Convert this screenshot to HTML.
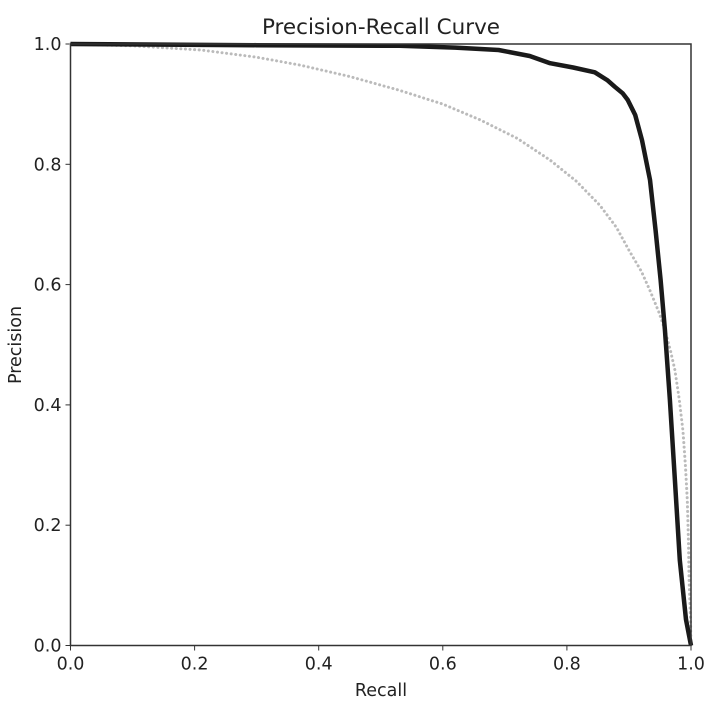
<!DOCTYPE html>
<html><head><meta charset="utf-8"><style>body{margin:0;background:#fff}svg{display:block;font-family:"DejaVu Sans","Liberation Sans",sans-serif}</style></head>
<body>
<svg id="chart" width="710" height="701">
<text x="381" y="34" text-anchor="middle" font-size="21.5" fill="#222">Precision-Recall Curve</text>
<text x="381" y="696" text-anchor="middle" font-size="17.5" fill="#222">Recall</text>
<text transform="translate(21,345) rotate(-90)" text-anchor="middle" font-size="17.5" fill="#222">Precision</text>
<g id="ticks"></g>
<g id="series"></g>
<rect x="70.5" y="44" width="620.5" height="601.5" fill="none" stroke="#333" stroke-width="1.5"/>
</svg>
<script>
const tickValues=[0,0.2,0.4,0.6,0.8,1.0];
const tickLabels=["0.0","0.2","0.4","0.6","0.8","1.0"];
const modelRecall=[0,0.3,0.53,0.62,0.69,0.74,0.773,0.81,0.845,0.865,0.877,0.89,0.898,0.91,0.921,0.934,0.943,0.951,0.958,0.966,0.974,0.982,0.992,1];
const modelPrecision=[1,0.998,0.997,0.994,0.99,0.98,0.968,0.961,0.953,0.94,0.929,0.918,0.907,0.882,0.84,0.774,0.69,0.608,0.525,0.408,0.275,0.142,0.043,0];
const baseRecall=[0,0.1,0.21,0.3,0.37,0.45,0.53,0.6,0.66,0.72,0.773,0.815,0.853,0.88,0.9,0.92,0.934,0.948,0.958,0.967,0.974,0.981,0.987,0.991,0.994,0.996,0.997,0.999,1];
const basePrecision=[1,0.997,0.99,0.978,0.965,0.946,0.923,0.9,0.874,0.843,0.807,0.772,0.732,0.695,0.657,0.622,0.59,0.555,0.525,0.49,0.458,0.41,0.358,0.3,0.242,0.17,0.109,0.05,0];
const X0=70.5,XW=620.5,Y0=645.5,YH=601.5;
const sx=v=>X0+v*XW, sy=v=>Y0-v*YH;
const NS="http://www.w3.org/2000/svg";
const tg=document.getElementById('ticks'), sg=document.getElementById('series');
tickValues.forEach((v,i)=>{
  let l=document.createElementNS(NS,'line');l.setAttribute('x1',sx(v));l.setAttribute('x2',sx(v));l.setAttribute('y1',Y0);l.setAttribute('y2',Y0+5);l.setAttribute('stroke','#333');
  
  tg.appendChild(l);
  let t=document.createElementNS(NS,'text');t.setAttribute('x',sx(v));t.setAttribute('y',Y0+24);t.setAttribute('text-anchor','middle');t.setAttribute('font-size','17.5');t.setAttribute('fill','#222');t.textContent=tickLabels[i];
  
  tg.appendChild(t);
  let l2=document.createElementNS(NS,'line');l2.setAttribute('x1',X0-5);l2.setAttribute('x2',X0);l2.setAttribute('y1',sy(v));l2.setAttribute('y2',sy(v));l2.setAttribute('stroke','#333');
  
  tg.appendChild(l2);
  let t2=document.createElementNS(NS,'text');t2.setAttribute('x',X0-9);t2.setAttribute('y',sy(v)+6);t2.setAttribute('text-anchor','end');t2.setAttribute('font-size','17.5');t2.setAttribute('fill','#222');t2.textContent=tickLabels[i];
  
  tg.appendChild(t2);
});
function path(rs,ps){return rs.map((r,i)=>(i?'L':'M')+sx(r).toFixed(1)+','+sy(ps[i]).toFixed(1)).join('');}
let b=document.createElementNS(NS,'path');b.setAttribute('d',path(baseRecall,basePrecision));b.setAttribute('fill','none');b.setAttribute('stroke','#bbb');b.setAttribute('stroke-width','3');b.setAttribute('stroke-dasharray','0.1 4.5');b.setAttribute('stroke-linecap','round');

sg.appendChild(b);
let m=document.createElementNS(NS,'path');m.setAttribute('d',path(modelRecall,modelPrecision));m.setAttribute('fill','none');m.setAttribute('stroke','#1a1a1a');m.setAttribute('stroke-width','4.5');m.setAttribute('stroke-linejoin','round');

sg.appendChild(m);
</script>
</body></html>
